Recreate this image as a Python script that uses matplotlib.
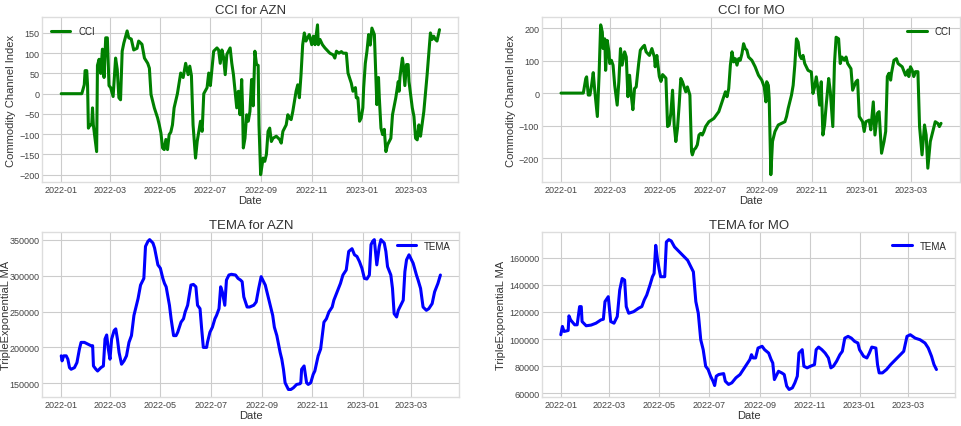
import numpy as np
import pandas as pd
import matplotlib
matplotlib.use('Agg')
import matplotlib.pyplot as plt

plt.style.use('seaborn-v0_8-whitegrid')
plt.rcParams['font.family'] = ['Liberation Sans', 'DejaVu Sans']

start = pd.Timestamp('2022-01-01')

# ---------------- CCI AZN (day offset from 2022-01-01, value) ----------------
cci_azn_days = [0, 25, 28, 29, 31, 32, 33, 35, 37, 38, 39, 41, 43, 44, 46, 48, 50, 52, 54, 56,
                58, 60, 63, 66, 68, 70, 72, 74, 76, 80, 82, 85, 88, 92, 94, 98, 101, 105, 107, 109,
                113, 117, 119, 121, 123, 125, 127, 129, 131, 133, 135, 137, 141, 145, 148, 151, 154, 156, 158, 160,
                163, 165, 167, 169, 171, 173, 177, 179, 181, 185, 189, 191, 193, 195, 197, 199, 201, 205, 207, 209,
                213, 215, 217, 219, 220, 221, 223, 225, 227, 229, 231, 233, 235, 237, 239, 240, 242, 245, 247, 249,
                251, 253, 255, 257, 261, 265, 267, 269, 273, 275, 277, 279, 281, 285, 287, 289, 291, 293, 295, 297,
                301, 304, 306, 308, 311, 312, 314, 317, 320, 326, 330, 332, 334, 337, 340, 342, 346, 348, 352, 354,
                357, 358, 360, 362, 364, 366, 367, 369, 371, 373, 375, 377, 380, 383, 385, 386, 388, 390, 392, 394,
                396, 398, 400, 402, 406, 409, 410, 411, 414, 415, 417, 419, 421, 422, 426, 428, 430, 432, 434, 436,
                440, 444, 446, 448, 450, 452, 454, 456, 459]
cci_azn_vals = [0, 0, 22, 57, 57, 20, -85, -77, -77, -35, -77, -110, -143, 70, 85, 50, 110, 40, 138, 138,
                20, 15, -7, 88, 60, -10, -15, 105, 125, 155, 138, 135, 108, 112, 130, 122, 88, 75, 63, -2,
                -35, -60, -77, -97, -134, -138, -113, -138, -101, -95, -77, -35, 0, 51, 40, 75, 47, 68, 45, -77,
                -159, -118, -93, -68, -93, 0, 15, 51, 20, 105, 113, 108, 75, 108, 90, 47, 97, 113, 75, 47,
                -35, 6, -52, 35, -30, -134, -110, -52, -68, -44, 35, -30, 105, 72, 70, -77, -200, -159, -167, -150,
                -93, -85, -118, -110, -105, -113, -122, -93, -77, -52, -60, -64, -44, 6, 22, -10, 47, 121, 150, 130,
                146, 121, 142, 121, 170, 121, 134, 121, 113, 100, 96, 88, 105, 100, 104, 100, 100, 51, 26, 6,
                15, -10, -10, -68, -60, -35, 15, 75, 105, 146, 120, 162, 146, -27, 40, -10, -85, -101, -88, -143,
                -126, -118, -110, -52, -10, 30, 6, 40, 88, 72, 20, 72, 72, 30, -35, -56, -110, -114, -77, -105,
                -44, 47, 97, 150, 134, 142, 134, 130, 158]

# ---------------- CCI MO ----------------
cci_mo_days = [0, 27, 30, 31, 33, 35, 37, 39, 41, 44, 46, 48, 50, 51, 53, 54, 56, 58, 59, 61,
               63, 65, 68, 70, 72, 74, 77, 79, 81, 83, 85, 87, 89, 91, 94, 96, 99, 101, 103, 107,
               110, 113, 114, 116, 119, 121, 123, 127, 129, 131, 133, 135, 137, 139, 141, 143, 145, 147, 151, 153,
               156, 158, 159, 161, 163, 165, 167, 169, 171, 173, 175, 179, 185, 191, 195, 199, 201, 203, 205, 207,
               209, 211, 213, 215, 217, 219, 221, 223, 225, 227, 231, 235, 239, 243, 246, 248, 249, 251, 252, 254,
               256, 259, 263, 267, 271, 273, 275, 279, 281, 283, 285, 287, 289, 291, 293, 295, 299, 303, 305, 307,
               309, 311, 313, 315, 317, 319, 321, 324, 326, 329, 331, 333, 336, 338, 340, 343, 345, 347, 351, 353,
               357, 359, 361, 365, 367, 369, 373, 375, 378, 380, 383, 385, 388, 391, 393, 395, 397, 399, 400, 403,
               406, 408, 413, 417, 420, 421, 423, 425, 427, 429, 432, 434, 437, 440, 442, 444, 447, 450, 453, 456,
               458, 460]
cci_mo_vals = [0, 0, 45, 50, -6, -6, 24, 63, 4, -72, 51, 210, 188, 137, 167, 70, 162, 127, 91, 101,
               86, 24, -37, 35, 137, 86, 127, 111, -11, 55, -6, -51, 14, 19, 91, 132, 142, 147, 127, 116,
               137, 111, 81, 116, 51, 36, 57, 46, -103, -98, -61, 9, -98, -149, -108, -37, 45, 35, 4, 19,
               -6, -180, -190, -174, -169, -159, -129, -124, -129, -118, -103, -88, -78, -57, -27, 4, -11, 14, 86, 127,
               96, 106, 86, 106, 101, 121, 152, 137, 132, 111, 101, 81, 55, 40, 19, -27, 35, 24, -16, -251,
               -149, -118, -98, -93, -88, -72, -47, -6, 24, 86, 167, 157, 116, 106, 116, 91, 70, 65, -1, 19,
               50, 14, -37, 35, -129, -98, -37, 45, 4, -103, 91, 172, 167, 91, 111, 101, 111, 91, 75, 9,
               35, 40, -72, -88, -118, -88, -83, -113, -27, -129, -62, -57, -185, -149, -118, 51, 61, 40, 61, 101,
               106, 91, 81, 55, 71, 51, 81, 71, 51, 66, 66, -103, -190, -98, -129, -231, -149, -118, -88, -93,
               -103, -93]

# ---------------- TEMA AZN ----------------
tema_azn_days = [0, 1, 3, 6, 8, 10, 12, 16, 19, 22, 24, 28, 32, 36, 38, 39, 42, 44, 48, 51,
                 53, 55, 57, 59, 61, 64, 66, 68, 70, 73, 76, 79, 82, 85, 88, 90, 93, 96, 100, 102,
                 105, 107, 111, 113, 117, 120, 123, 125, 127, 131, 133, 136, 139, 141, 145, 148, 150, 153, 155, 157,
                 160, 163, 165, 168, 170, 172, 176, 177, 180, 183, 186, 188, 191, 193, 195, 198, 200, 203, 206, 211,
                 214, 217, 219, 221, 225, 228, 233, 236, 239, 242, 245, 247, 250, 253, 256, 258, 261, 265, 267, 269,
                 271, 275, 278, 281, 285, 289, 290, 291, 294, 297, 299, 302, 305, 307, 311, 314, 318, 321, 324, 328,
                 330, 334, 338, 341, 345, 348, 352, 355, 358, 361, 364, 367, 370, 373, 375, 377, 379, 382, 385, 387,
                 391, 393, 395, 399, 401, 403, 406, 408, 411, 414, 416, 418, 421, 424, 426, 430, 432, 435, 438, 442,
                 445, 449, 452, 456, 459]
tema_azn_vals = [188400, 181400, 188400, 188400, 183700, 172000, 169700, 172000, 179000, 197800, 207100, 207100, 204800, 202500, 202500, 174300, 169700, 167300, 172000, 174300,
                 211800, 217400, 197800, 183700, 211800, 223500, 225900, 211800, 193100, 176700, 181400, 188400, 207100, 216500, 244600, 254000, 268000, 286800, 296100, 340600,
                 347700, 350000, 345300, 338300, 314900, 310200, 296100, 289100, 284400, 258700, 239900, 216500, 216500, 221200, 235200, 239900, 249300, 258700, 272700, 286800,
                 287700, 284400, 258700, 254000, 225900, 200100, 200100, 207100, 221200, 228200, 239900, 244600, 254000, 284400, 277400, 258700, 293800, 300800, 301800, 300800,
                 296100, 293800, 291500, 270400, 256300, 256300, 258700, 263300, 282100, 298500, 291500, 286800, 272700, 258700, 244600, 228200, 216500, 193100, 183700, 169700,
                 150900, 141600, 141600, 143900, 148600, 149500, 150900, 169700, 174300, 150900, 148600, 150900, 162600, 167300, 188400, 197800, 235200, 239900, 249300, 256300,
                 265700, 277400, 289100, 300800, 307800, 333600, 337400, 328900, 326600, 319500, 310200, 296100, 295200, 300800, 343000, 347700, 350000, 314900, 340600, 350000,
                 345300, 333600, 312500, 300800, 282100, 247000, 242400, 251700, 258700, 265700, 305500, 321900, 328900, 321900, 317200, 300800, 293800, 282100, 256300, 251700,
                 254000, 261000, 277400, 289100, 300800]

# ---------------- TEMA MO ----------------
tema_mo_days = [0, 2, 4, 9, 10, 12, 17, 20, 23, 25, 26, 31, 37, 43, 49, 52, 54, 58, 61, 65,
                69, 72, 75, 78, 80, 83, 89, 95, 99, 102, 105, 109, 112, 114, 116, 118, 120, 122, 127, 129,
                132, 135, 139, 145, 151, 155, 159, 162, 165, 168, 171, 174, 177, 180, 183, 186, 188, 190, 193, 199,
                201, 205, 209, 214, 219, 223, 227, 231, 233, 235, 238, 241, 246, 249, 254, 257, 259, 261, 263, 266,
                270, 273, 276, 279, 283, 286, 289, 291, 295, 297, 301, 305, 310, 312, 315, 319, 323, 327, 330, 333,
                337, 341, 344, 347, 351, 355, 359, 363, 365, 370, 374, 377, 380, 385, 387, 389, 393, 398, 403, 407,
                411, 415, 419, 423, 427, 433, 439, 445, 449, 453, 456, 459]
tema_mo_vals = [103200, 109300, 105600, 106300, 117100, 114100, 110500, 110500, 123900, 123900, 112900, 109800, 110300, 111700, 114100, 114600, 127600, 131200, 112900, 111700,
                116600, 136100, 144600, 143400, 123900, 119000, 120200, 122700, 123900, 128800, 132400, 139800, 145900, 148300, 169000, 159300, 152000, 145900, 145900, 171500,
                173200, 172200, 167800, 164100, 160500, 158000, 153200, 149500, 127600, 119000, 99500, 92200, 80000, 77600, 72700, 69000, 65800, 72700, 73900, 74600,
                69000, 66600, 67800, 71500, 73900, 77600, 81200, 84900, 88500, 86100, 86100, 93400, 94700, 92200, 89700, 84900, 82400, 70200, 72700, 76300,
                75100, 73900, 65400, 62900, 64100, 67800, 72700, 89700, 92200, 80000, 78800, 80000, 81200, 92200, 94100, 92200, 89700, 86100, 78800, 80000,
                83700, 88500, 91000, 100700, 102000, 100700, 98300, 97100, 92200, 87300, 86100, 89700, 94100, 93400, 81200, 75100, 75100, 77600, 81200, 83700,
                86100, 88500, 91000, 102000, 103200, 100700, 99500, 97100, 93400, 87300, 81200, 77600]


def to_dates(days):
    return start + pd.to_timedelta(days, unit='D')


fig = plt.figure(figsize=(9.61, 4.27), dpi=100)
ax1 = fig.add_axes([0.044, 0.571, 0.433, 0.386])
ax2 = fig.add_axes([0.564, 0.571, 0.435, 0.386])
ax3 = fig.add_axes([0.044, 0.068, 0.434, 0.386])
ax4 = fig.add_axes([0.564, 0.068, 0.430, 0.386])

panels = [
    (ax1, cci_azn_days, cci_azn_vals, 'green', 'CCI', 'CCI for AZN', 'Commodity Channel Index', 'upper left'),
    (ax2, cci_mo_days, cci_mo_vals, 'green', 'CCI', 'CCI for MO', 'Commodity Channel Index', 'upper right'),
    (ax3, tema_azn_days, tema_azn_vals, 'blue', 'TEMA', 'TEMA for AZN', 'TripleExponentiaL MA', 'upper right'),
    (ax4, tema_mo_days, tema_mo_vals, 'blue', 'TEMA', 'TEMA for MO', 'TripleExponentiaL MA', 'upper right'),
]

for ax, d, v, c, lab, title, ylab, loc in panels:
    ax.plot(to_dates(d), v, color=c, lw=2.2, label=lab)
    ax.set_title(title, fontsize=9.5, color='#333333', pad=3)
    ax.set_xlabel('Date', fontsize=8, color='#333333', labelpad=1)
    ax.set_ylabel(ylab, fontsize=8, color='#333333', labelpad=2)
    ax.tick_params(labelsize=6.5, colors='#444444', pad=2)
    ax.legend(loc=loc, fontsize=7, frameon=False)
    ax.xaxis.set_major_formatter(matplotlib.dates.DateFormatter('%Y-%m'))
    for s in ax.spines.values():
        s.set_color('#dddddd')

ax2.set_yticks([-200, -100, 0, 100, 200])
# the bottom-left label sits right at the figure edge, nudge it in
ax3.yaxis.set_label_coords(-0.076, 0.5)

fig.savefig('out.png', dpi=100)
